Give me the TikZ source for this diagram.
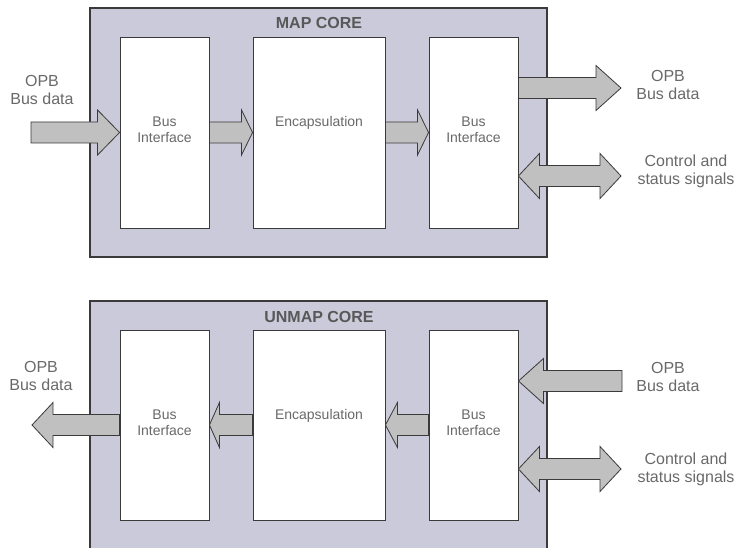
\documentclass[tikz,border=0pt]{standalone}
\usepackage{fontspec}
\setmainfont{Liberation Sans}
\usetikzlibrary{positioning,calc}

\definecolor{corefill}{RGB}{203,202,219}
\definecolor{arrowfill}{RGB}{192,192,192}
\definecolor{edgegray}{RGB}{58,58,58}
\definecolor{textgray}{RGB}{105,105,105}
\definecolor{titlegray}{RGB}{88,88,88}

\tikzset{
  core/.style={draw=edgegray, line width=1.2pt, fill=corefill, minimum width=457pt, inner sep=0},
  block/.style={draw=edgegray, line width=0.9pt, fill=white, minimum width=89pt, inner sep=0},
  blocktext/.style={text=textgray, font=\fontsize{14}{16}\selectfont, align=center, inner sep=0},
  sidetext/.style={text=textgray, font=\fontsize{16}{18}\selectfont, align=center, inner sep=0},
  coretitle/.style={text=titlegray, font=\fontsize{16}{18}\selectfont\bfseries, inner sep=0},
  busarrow/.style={draw=edgegray, line width=0.8pt, fill=arrowfill, line join=miter},
}

% #1 head length, #2 tail, #3 tip
\newcommand{\busarrow}[3]{%
  \path[busarrow] let \p1=(#2), \p2=(#3), \n1={#1*(\x2-\x1)/abs(\x2-\x1)} in
    (\x1,\y1+10.5pt) -- (\x2-\n1,\y1+10.5pt) -- (\x2-\n1,\y1+22.5pt) -- (\x2,\y1)
    -- (\x2-\n1,\y1-22.5pt) -- (\x2-\n1,\y1-10.5pt) -- (\x1,\y1-10.5pt) -- cycle;}
% #1 left tip, #2 right tip
\newcommand{\dbusarrow}[2]{%
  \path[busarrow] let \p1=(#1), \p2=(#2) in
    (\x1,\y1) -- (\x1+21pt,\y1+22.5pt) -- (\x1+21pt,\y1+10.5pt) -- (\x2-21pt,\y1+10.5pt)
    -- (\x2-21pt,\y1+22.5pt) -- (\x2,\y1) -- (\x2-21pt,\y1-22.5pt) -- (\x2-21pt,\y1-10.5pt)
    -- (\x1+21pt,\y1-10.5pt) -- (\x1+21pt,\y1-22.5pt) -- cycle;}

\begin{document}
\begin{tikzpicture}[x=1pt,y=-1pt]
\useasboundingbox (0,0) rectangle (736,548);
\clip (0,0) rectangle (736,548);
\begin{scope}
% map core
\node[core, minimum height=249pt] (core1) at (318.5,132.5) {};
\node[block, minimum height=191pt] (bi1) at (164.5,132.5) {};
\node[block, minimum height=191pt, minimum width=132pt] (enc1) at (319,132.5) {};
\node[block, minimum height=191pt] (bi2) at (473.5,132.5) {};
\node[coretitle, above=8pt of enc1.north] (title1) {MAP CORE};
\node[blocktext, below=80pt of bi1.north] (bi1txt) {Bus\\Interface};
\node[blocktext, below=80pt of enc1.north] (enc1txt) {Encapsulation};
\node[blocktext, below=80pt of bi2.north] (bi2txt) {Bus\\Interface};
\coordinate (in1) at (31,132.5);
\coordinate (out1) at (621,88);
\coordinate (ctl1) at (621,176);
\busarrow{22}{in1}{bi1.west}
\busarrow{11}{bi1.east}{enc1.west}
\busarrow{11}{enc1.east}{bi2.west}
\busarrow{25}{bi2.east |- out1}{out1}
\dbusarrow{bi2.east |- ctl1}{ctl1}
\node[sidetext] (opb1) at (42,90) {OPB\\Bus data};
\node[sidetext] (opb2) at (668,85) {OPB\\Bus data};
\node[sidetext] (ctltxt1) at (686,171) {Control and\\status signals};
\end{scope}
\begin{scope}
% unmap core
\node[core, minimum height=259pt] (core2) at (318.5,430.5) {};
\node[block, minimum height=190pt] (bi3) at (164.5,425) {};
\node[block, minimum height=190pt, minimum width=132pt] (enc2) at (319,425) {};
\node[block, minimum height=190pt] (bi4) at (473.5,425) {};
\node[coretitle, above=7pt of enc2.north] (title2) {UNMAP CORE};
\node[blocktext, below=80pt of bi3.north] (bi3txt) {Bus\\Interface};
\node[blocktext, below=80pt of enc2.north] (enc2txt) {Encapsulation};
\node[blocktext, below=80pt of bi4.north] (bi4txt) {Bus\\Interface};
\coordinate (out2) at (32,425);
\coordinate (in2) at (622,381);
\coordinate (ctl2) at (621,469);
\busarrow{21}{bi3.west}{out2}
\busarrow{10}{enc2.west}{bi3.east}
\busarrow{12}{bi4.west}{enc2.east}
\busarrow{25}{in2}{bi4.east |- in2}
\dbusarrow{bi4.east |- ctl2}{ctl2}
\node[sidetext] (opb3) at (41,376) {OPB\\Bus data};
\node[sidetext] (opb4) at (668,377) {OPB\\Bus data};
\node[sidetext] (ctltxt2) at (686,469) {Control and\\status signals};
\end{scope}
\end{tikzpicture}
\end{document}
